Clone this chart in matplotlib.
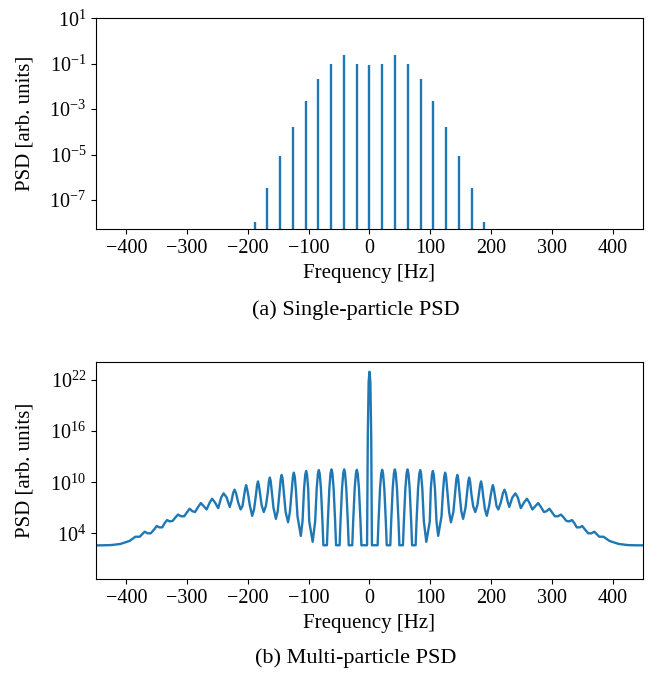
import numpy as np
import matplotlib
matplotlib.use("Agg")
import matplotlib.pyplot as plt

plt.rcParams['font.family'] = ['Liberation Serif', 'DejaVu Serif']
plt.rcParams['mathtext.fontset'] = 'stix'
plt.rcParams['axes.unicode_minus'] = True

# (a) single-particle PSD: discrete spectral lines
line_freq = [-189, -168, -147, -126, -105, -84, -63, -42, -21, 0,
             21, 42, 63, 84, 105, 126, 147, 168, 189]
line_psd = [1.07e-8, 3.5e-7, 8.7e-6, 1.7e-4, 2.3e-3, 0.021, 0.10, 0.25, 0.10, 0.085,
            0.10, 0.25, 0.10, 0.021, 2.3e-3, 1.7e-4, 8.7e-6, 3.5e-7, 1.07e-8]

# (b) multi-particle PSD, read off for f >= 0 (curve is symmetric about 0)
# frequency [Hz] and log10(PSD)
multi_freq = [0, 1.4, 2.8, 4.0,
              # lobe ~21 Hz
              13.35, 14.85, 17.35, 19.35, 20.85, 22.35, 24.35, 26.85, 28.35,
              # lobe ~42 Hz
              34.2, 35.7, 38.2, 40.2, 41.7, 43.2, 45.2, 47.7, 49.2,
              # lobe ~63 Hz
              55.05, 56.55, 59.05, 61.05, 62.55, 64.05, 66.05, 68.55, 70.05,
              # lobe ~83 Hz
              75.9, 77.4, 79.9, 81.9, 83.4, 84.9, 86.9, 89.4, 93.5,
              # lobe ~104 Hz
              99.2, 100.8, 102.75, 104.25, 105.75, 107.75, 110.2, 113,
              # lobe ~124 Hz
              118.5, 121, 123, 124.5, 126, 128, 131, 134,
              # lobe ~144 Hz
              138, 141, 143, 144.5, 146, 148, 151, 154,
              # lobe ~164 Hz
              158, 160.5, 162.5, 164, 165.5, 167.5, 170.5, 174,
              # lobe ~183 Hz
              177.5, 180, 182, 183.5, 185, 187, 190, 193,
              # lobe ~203 Hz
              197, 199.5, 201.5, 203, 204.5, 206.5, 209, 212,
              # lobe ~222 Hz
              216, 219.5, 222, 224.5, 227, 230,
              # outer wiggles
              235, 240, 244, 249, 254, 259, 263, 268, 273, 277.5, 282, 287,
              291.5, 296, 300, 305, 310, 315, 319, 324, 329, 333, 337, 341,
              346, 350, 355, 360, 365, 370, 378, 385, 395,
              410, 425, 440, 450]
multi_logpsd = [22.97, 21.8, 15.5, 2.6,
                2.6, 5.4, 9.3, 11.0, 11.46, 11.0, 9.3, 5.4, 2.6,
                2.6, 5.4, 9.3, 11.05, 11.5, 11.05, 9.3, 5.4, 2.6,
                2.6, 5.4, 9.3, 11.05, 11.5, 11.05, 9.3, 5.4, 2.6,
                2.6, 5.4, 9.25, 10.97, 11.42, 10.97, 9.25, 5.4, 3.0,
                5.4, 9.15, 10.87, 11.32, 10.87, 9.15, 5.4, 3.7,
                6.0, 9.0, 10.67, 11.12, 10.67, 9.0, 6.5, 5.3,
                6.5, 8.8, 10.4, 10.85, 10.4, 8.8, 6.6, 5.7,
                7.0, 8.7, 10.1, 10.54, 10.1, 8.7, 7.2, 6.5,
                7.3, 8.6, 9.65, 10.09, 9.65, 8.4, 6.8, 6.05,
                7.3, 8.5, 9.25, 9.66, 9.25, 8.3, 7.2, 6.8,
                7.6, 8.7, 9.12, 8.7, 7.8, 7.1,
                8.2, 8.69, 8.2, 6.95, 7.6, 8.06, 7.6, 6.8, 7.2, 7.55, 7.1, 6.5,
                6.6, 6.89, 6.5, 6.0, 6.0, 6.2, 5.9, 5.45, 5.4, 5.56, 5.2, 4.7,
                4.7, 4.86, 4.4, 4.0, 4.0, 4.19, 3.6, 3.6, 3.1,
                2.75, 2.62, 2.59, 2.59]

f_pos = np.array(multi_freq)
v_pos = np.array(multi_logpsd)
freq_full = np.concatenate([-f_pos[::-1], f_pos[1:]])
psd_full = 10.0 ** np.concatenate([v_pos[::-1], v_pos[1:]])

fig = plt.figure(figsize=(6.58, 6.73), dpi=100)
ax1 = fig.add_axes([0.1459, 0.6593, 0.8313, 0.3135])
ax2 = fig.add_axes([0.1459, 0.1392, 0.8313, 0.3234])

blue = '#1f77b4'

ax1.vlines(line_freq, 1e-12, line_psd, color=blue, lw=1.7)
ax1.set_yscale('log')
ax1.set_xlim(-450, 450)
ax1.set_ylim(10 ** -8.29, 10)
ax1.set_yticks([1e1, 1e-1, 1e-3, 1e-5, 1e-7])
ax1.yaxis.set_minor_locator(matplotlib.ticker.NullLocator())

ax2.plot(freq_full, psd_full, color=blue, lw=1.7, solid_joinstyle='round')
ax2.set_yscale('log')
ax2.set_xlim(-450, 450)
ax2.set_ylim(10 ** -1.40, 10 ** 24.15)
ax2.set_yticks([1e4, 1e10, 1e16, 1e22])
ax2.yaxis.set_minor_locator(matplotlib.ticker.NullLocator())

for ax in (ax1, ax2):
    ax.set_xticks([-400, -300, -200, -100, 0, 100, 200, 300, 400])
    ax.tick_params(labelsize=14.5)
    ax.set_xlabel('Frequency [Hz]', fontsize=15)
    ax.set_ylabel('PSD [arb. units]', fontsize=15)
    ax.yaxis.set_label_coords(-0.113, 0.5)

fig.text(356 / 658, 1 - 310 / 673, '(a) Single-particle PSD', fontsize=16,
         ha='center', va='center')
fig.text(356 / 658, 1 - 658 / 673, '(b) Multi-particle PSD', fontsize=16,
         ha='center', va='center')

fig.savefig('out.png', dpi=100)
